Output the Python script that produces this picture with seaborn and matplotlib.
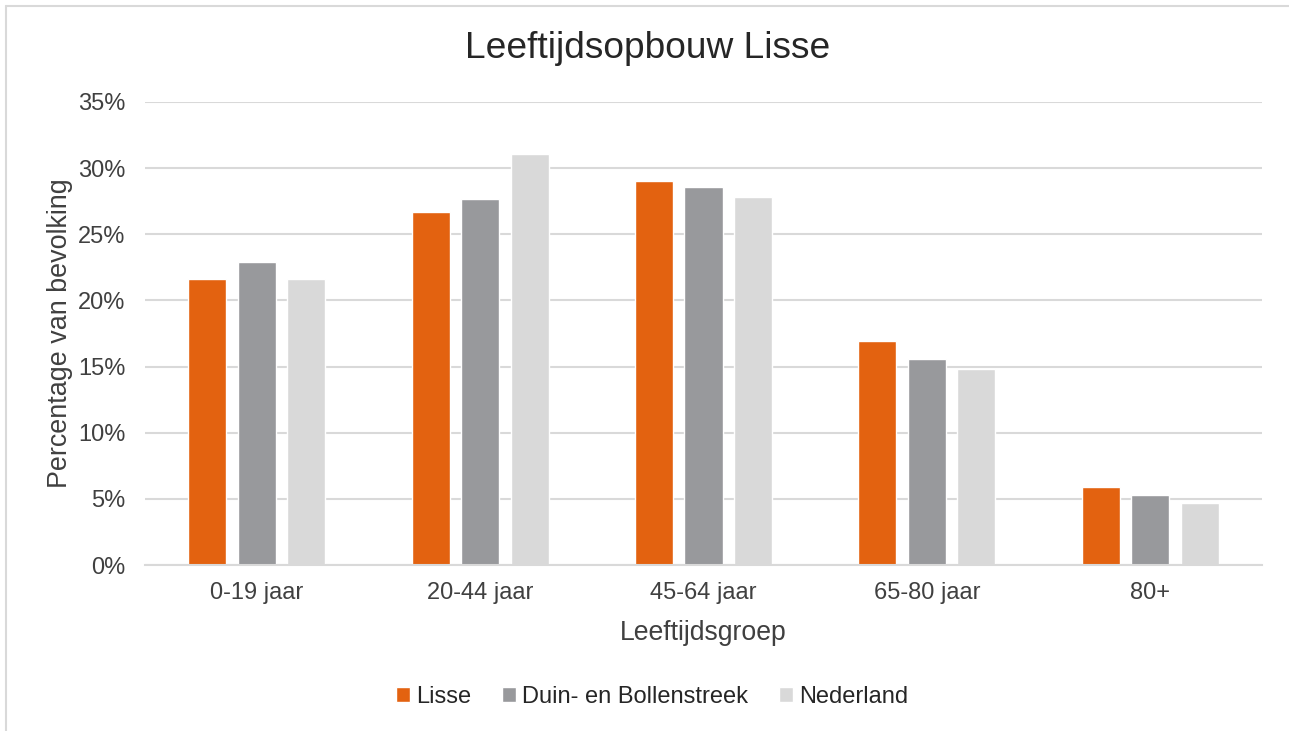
import matplotlib
matplotlib.use("Agg")
import matplotlib.pyplot as plt
import seaborn as sns
import pandas as pd
from matplotlib.lines import Line2D
from matplotlib.ticker import FuncFormatter

categories = ["0-19 jaar", "20-44 jaar", "45-64 jaar", "65-80 jaar", "80+"]
lisse = [21.6, 26.7, 29.0, 16.9, 5.9]
duin = [22.9, 27.7, 28.6, 15.6, 5.3]
nederland = [21.6, 31.1, 27.8, 14.8, 4.7]
series_names = ["Lisse", "Duin- en Bollenstreek", "Nederland"]
colors = ["#E36210", "#98999C", "#D9D9D9"]
yticks = [0, 5, 10, 15, 20, 25, 30, 35]

rows = []
for name, vals in zip(series_names, [lisse, duin, nederland]):
    for c, v in zip(categories, vals):
        rows.append({"Leeftijdsgroep": c, "Reeks": name, "Waarde": v})
df = pd.DataFrame(rows)

sns.set_theme(style="white")
plt.rcParams["font.family"] = ["Liberation Sans", "DejaVu Sans"]

fig = plt.figure(figsize=(12.89, 7.31), dpi=100)
ax = fig.add_axes([145/1289, 1-565/731, (1262-145)/1289, (565-102)/731])

sns.barplot(data=df, x="Leeftijdsgroep", y="Waarde", hue="Reeks",
            hue_order=series_names, order=categories, palette=colors,
            width=0.665, gap=0.23, ax=ax, legend=True, saturation=1)

ax.set_ylim(0, 35)
ax.set_yticks(yticks)
ax.yaxis.set_major_formatter(FuncFormatter(lambda v, p: f"{int(v)}%"))
ax.grid(axis="y", color="#D9D9D9", linewidth=1.5)
ax.set_axisbelow(True)
for s in ["top", "right", "left"]:
    ax.spines[s].set_visible(False)
ax.spines["bottom"].set_color("#D9D9D9")
ax.spines["bottom"].set_linewidth(1.5)
ax.tick_params(axis="y", length=0, pad=14, labelsize=17, labelcolor="#404040")
ax.tick_params(axis="x", length=0, pad=12, labelsize=17, labelcolor="#404040")
ax.set_xlabel("Leeftijdsgroep", fontsize=19.2, color="#404040", labelpad=12)
ax.set_ylabel("Percentage van bevolking", fontsize=19.4, color="#404040", labelpad=4)

fig.text(0.5025, 1-49/731, "Leeftijdsopbouw Lisse", ha="center", va="center",
         fontsize=26.7, color="#262626")

handles, labels = ax.get_legend_handles_labels()
ax.get_legend().remove()
fig.legend(handles, labels, loc="center", bbox_to_anchor=(0.506, 1-697/731),
           ncol=3, frameon=False, fontsize=17, handlelength=0.6, handleheight=0.6,
           handletextpad=0.25, columnspacing=1.3, labelcolor="#262626")

fig.lines.append(Line2D([6/1289, 1.1], [1-6/731, 1-6/731], transform=fig.transFigure,
                        color="#D9D9D9", linewidth=1.5))
fig.lines.append(Line2D([6/1289, 6/1289], [-0.1, 1-6/731], transform=fig.transFigure,
                        color="#D9D9D9", linewidth=1.5))

fig.savefig("out.png", dpi=100)
